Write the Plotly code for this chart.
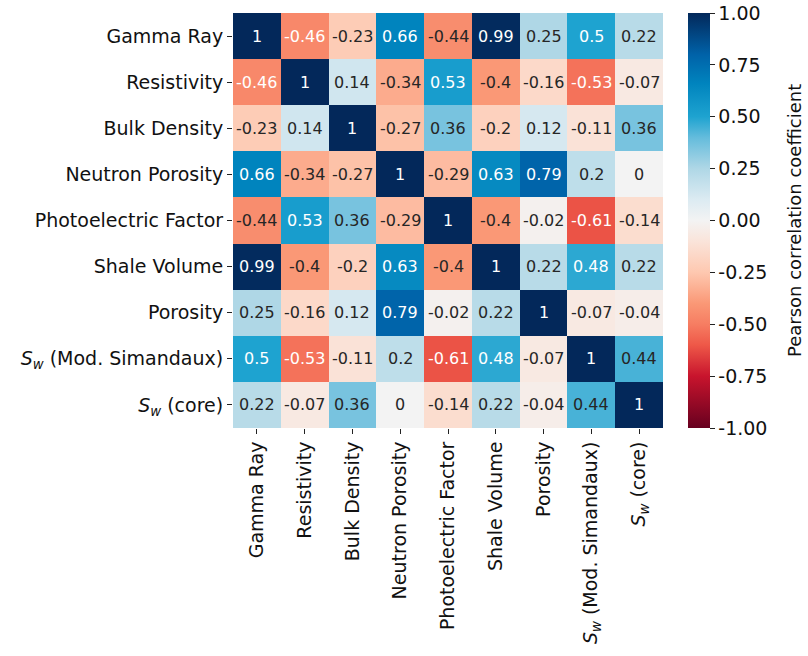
import plotly.graph_objects as go

# Well-log variables (rows and columns of the correlation matrix)
labels = [
    "Gamma Ray",
    "Resistivity",
    "Bulk Density",
    "Neutron Porosity",
    "Photoelectric Factor",
    "Shale Volume",
    "Porosity",
    "<i>S<sub>w</sub></i> (Mod. Simandaux)",
    "<i>S<sub>w</sub></i> (core)",
]

# Pearson correlation coefficients, one row per variable
row_gamma_ray = [1, -0.46, -0.23, 0.66, -0.44, 0.99, 0.25, 0.5, 0.22]
row_resistivity = [-0.46, 1, 0.14, -0.34, 0.53, -0.4, -0.16, -0.53, -0.07]
row_bulk_density = [-0.23, 0.14, 1, -0.27, 0.36, -0.2, 0.12, -0.11, 0.36]
row_neutron_porosity = [0.66, -0.34, -0.27, 1, -0.29, 0.63, 0.79, 0.2, 0]
row_pef = [-0.44, 0.53, 0.36, -0.29, 1, -0.4, -0.02, -0.61, -0.14]
row_shale_volume = [0.99, -0.4, -0.2, 0.63, -0.4, 1, 0.22, 0.48, 0.22]
row_porosity = [0.25, -0.16, 0.12, 0.79, -0.02, 0.22, 1, -0.07, -0.04]
row_sw_simandaux = [0.5, -0.53, -0.11, 0.2, -0.61, 0.48, -0.07, 1, 0.44]
row_sw_core = [0.22, -0.07, 0.36, 0, -0.14, 0.22, -0.04, 0.44, 1]

corr = [
    row_gamma_ray,
    row_resistivity,
    row_bulk_density,
    row_neutron_porosity,
    row_pef,
    row_shale_volume,
    row_porosity,
    row_sw_simandaux,
    row_sw_core,
]

colorbar_ticks = [-1.0, -0.75, -0.5, -0.25, 0.0, 0.25, 0.5, 0.75, 1.0]

# Diverging red-white-blue scale
colorscale = [
    [0.0, "rgb(103,0,31)"],
    [0.125, "rgb(200,20,45)"],
    [0.2, "rgb(238,88,72)"],
    [0.25, "rgb(246,125,98)"],
    [0.3, "rgb(250,152,118)"],
    [0.375, "rgb(254,200,176)"],
    [0.45, "rgb(250,228,218)"],
    [0.5, "rgb(243,243,243)"],
    [0.55, "rgb(220,235,242)"],
    [0.625, "rgb(175,215,230)"],
    [0.7, "rgb(100,188,220)"],
    [0.75, "rgb(30,163,208)"],
    [0.83, "rgb(0,132,190)"],
    [0.9, "rgb(0,98,168)"],
    [1.0, "rgb(3,40,90)"],
]

FONT = "DejaVu Sans"
TEXT = "#111"

fig = go.Figure(
    go.Heatmap(
        z=corr,
        x=labels,
        y=labels,
        zmin=-1,
        zmax=1,
        colorscale=colorscale,
        colorbar=dict(
            x=1.058,
            xanchor="left",
            xpad=0,
            y=0.5,
            yanchor="middle",
            ypad=0,
            len=1.0,
            lenmode="fraction",
            thickness=22,
            outlinewidth=0,
            tickvals=colorbar_ticks,
            ticktext=[f"{t:.2f}" for t in colorbar_ticks],
            ticks="outside",
            ticklen=5,
            tickwidth=1,
            tickcolor="#222",
            tickfont=dict(family=FONT, size=19, color=TEXT),
        ),
    )
)

annotations = []
for i, row in enumerate(corr):
    for j, v in enumerate(row):
        annotations.append(
            dict(
                x=labels[j],
                y=labels[i],
                text=f"{v:g}",
                showarrow=False,
                font=dict(
                    family=FONT,
                    size=16,
                    color="white" if abs(v) >= 0.45 else "#262626",
                ),
            )
        )

# Colorbar caption, rotated alongside the bar
annotations.append(
    dict(
        x=1.306,
        xref="paper",
        xanchor="center",
        y=0.5,
        yref="paper",
        yanchor="middle",
        text="Pearson correlation coefficient",
        textangle=-90,
        showarrow=False,
        font=dict(family=FONT, size=18, color=TEXT),
    )
)

fig.update_layout(
    width=808,
    height=656,
    margin=dict(l=233, r=145, t=13, b=222),
    paper_bgcolor="white",
    plot_bgcolor="white",
    annotations=annotations,
    font=dict(family=FONT, size=19, color=TEXT),
)

axis_style = dict(
    ticks="outside",
    ticklen=5,
    tickwidth=1,
    tickcolor="#222",
    tickfont=dict(family=FONT, size=19, color=TEXT),
    showgrid=False,
    zeroline=False,
    showline=False,
)
fig.update_xaxes(tickangle=-90, **axis_style)
fig.update_yaxes(autorange="reversed", **axis_style)

fig.write_html("out.html")
